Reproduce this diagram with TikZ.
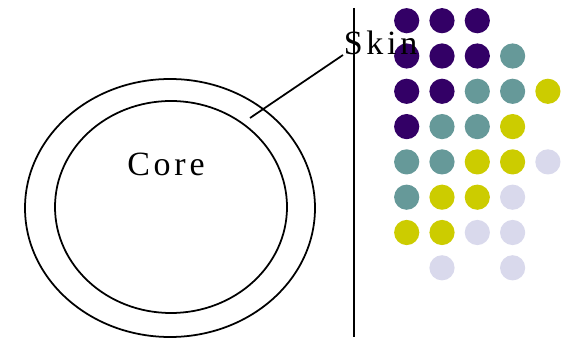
\documentclass[tikz,border=0pt]{standalone}
\usepackage{fontspec}
\setmainfont{Liberation Serif}
\usetikzlibrary{positioning}
\definecolor{P}{HTML}{330066}
\definecolor{T}{HTML}{669999}
\definecolor{Y}{HTML}{CCCC00}
\definecolor{L}{HTML}{D9D9EC}
\begin{document}
\begin{tikzpicture}[x=0.03cm, y=0.03cm, line width=1.5pt,
	label/.style={inner sep=0pt, font=\fontsize{29}{29}\selectfont\addfontfeature{LetterSpace=11}}]
	\useasboundingbox (0,0) rectangle (563,338);
	% particles
	\foreach \clr [count=\i from 0] in {P,P,P,none,none, P,P,P,T,none, P,P,T,T,Y, P,T,T,Y,none,
		T,T,Y,Y,L, T,Y,Y,L,none, Y,Y,L,L,none, none,L,none,L,none}
		\fill[fill=\clr] ({406.7+35.3*mod(\i,5)},{317.3-35.3*int(\i/5)}) circle[radius=12.6];
	% the body
	\draw (170,130) ellipse [x radius=145, y radius=129];
	\draw (171,131) ellipse [x radius=116, y radius=106];
	\node[label] (core) at (166,174) {Core};
	\node[label, anchor=base west] (skin) at (343,283) {Skin};
	\coordinate (ring) at (250,220);
	\draw (ring) -- (skin.base west);
	% divider
	\draw (354,330) -- (354,1);
\end{tikzpicture}
\end{document}
